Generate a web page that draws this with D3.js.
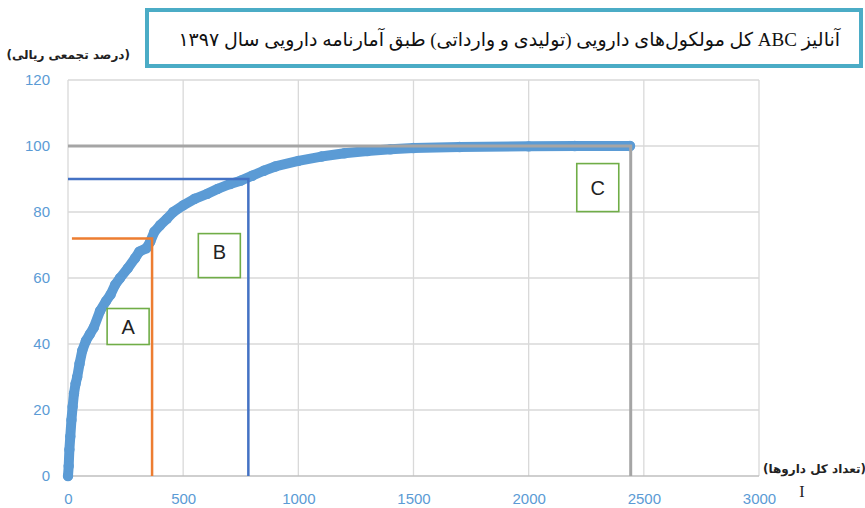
<!DOCTYPE html>
<html>
<head>
<meta charset="utf-8">
<script src="https://cdn.jsdelivr.net/npm/d3@7"></script>
<style>
	body { margin: 0; background: #fff; }
	svg text { font-family: "Liberation Sans", "DejaVu Sans", sans-serif; }
</style>
</head>
<body>
<div id="chart"></div>
<script>
// cumulative curve: [number of drugs, cumulative % of value]
const curveX = [0, 3, 6, 10, 15, 20, 26, 33, 40, 50, 62, 78, 95, 112, 139, 165, 185, 205, 226,
	260, 291, 310, 340, 357, 375, 400, 430, 457, 500, 550, 604, 650, 704, 750, 800, 850, 900,
	1000, 1100, 1200, 1300, 1400, 1500, 1700, 2000, 2200, 2440];
const curveY = [0, 3, 8, 12, 17, 21, 25, 28, 30, 34, 38, 41, 43, 45, 50, 53, 55, 58, 60,
	63, 66, 68, 69, 71, 74, 76, 78, 80, 82, 84, 85.5, 87, 88.5, 89.5, 91, 92.5, 93.8,
	95.5, 96.8, 97.8, 98.5, 99, 99.4, 99.7, 99.9, 100, 100];

// ABC cut-offs
const cutNames = ['A', 'B', 'C'];
const cutX = [365, 783, 2443];
const cutY = [72, 90, 100];
const cutStart = [17, 0, 0];
const cutColors = ['#ed7d31', '#4472c4', '#a5a5a5'];

// label boxes (data coordinates of their centres)
const boxX = [261, 657, 2300];
const boxY = [45.3, 68, 87.4];

const xTicks = [0, 500, 1000, 1500, 2000, 2500, 3000];
const yTicks = [0, 20, 40, 60, 80, 100, 120];

const title = 'آنالیز ABC  کل مولکول‌های دارویی (تولیدی و وارداتی) طبق آمارنامه دارویی سال ۱۳۹۷';
const yLabel = '(درصد تجمعی ریالی)';
const xLabel = '(تعداد کل داروها)';

const svg = d3.select('#chart')
	.append('svg')
	.attr('width', 865)
	.attr('height', 508);

const x = d3.scaleLinear().domain([0, 3000]).range([68, 759]);
const y = d3.scaleLinear().domain([0, 120]).range([476, 80]);

// grid
svg.append('g')
	.selectAll('line')
	.data(xTicks)
	.enter()
	.append('line')
	.attr('x1', (d) => x(d))
	.attr('x2', (d) => x(d))
	.attr('y1', y(120))
	.attr('y2', y(0))
	.attr('stroke', '#d9d9d9')
	.attr('stroke-width', 1.3);

svg.append('g')
	.selectAll('line')
	.data(yTicks)
	.enter()
	.append('line')
	.attr('x1', x(0))
	.attr('x2', x(3000))
	.attr('y1', (d) => y(d))
	.attr('y2', (d) => y(d))
	.attr('stroke', (d) => d === 0 ? '#bfbfbf' : '#d9d9d9')
	.attr('stroke-width', 1.3);

// tick labels
svg.append('g')
	.attr('transform', 'translate(0,' + y(0) + ')')
	.call(d3.axisBottom(x).tickValues(xTicks).tickFormat(d3.format('d')).tickSize(0).tickPadding(17))
	.call((g) => g.select('.domain').remove())
	.selectAll('text')
	.attr('fill', '#5b9bd5')
	.style('font-size', '15px');

svg.append('g')
	.attr('transform', 'translate(' + x(0) + ',0)')
	.call(d3.axisLeft(y).tickValues(yTicks).tickSize(0).tickPadding(18))
	.call((g) => g.select('.domain').remove())
	.selectAll('text')
	.attr('fill', '#5b9bd5')
	.style('font-size', '15px');

// cumulative curve: thick band of overlapping dots
const points = curveX.map((d, i) => [d, curveY[i]]);

svg.append('path')
	.datum(points)
	.attr('d', d3.line().x((d) => x(d[0])).y((d) => y(d[1])))
	.attr('fill', 'none')
	.attr('stroke', '#5b9bd5')
	.attr('stroke-width', 10)
	.attr('stroke-linejoin', 'round')
	.attr('stroke-linecap', 'round');

svg.append('g')
	.selectAll('circle')
	.data(points)
	.enter()
	.append('circle')
	.attr('cx', (d) => x(d[0]))
	.attr('cy', (d) => y(d[1]))
	.attr('r', 5.2)
	.attr('fill', '#5b9bd5');

// ABC cut-off lines
cutNames.forEach((name, i) => {
	svg.append('path')
		.attr('d', 'M' + x(cutStart[i]) + ',' + y(cutY[i]) + 'H' + x(cutX[i]) + 'V' + y(0))
		.attr('fill', 'none')
		.attr('stroke', cutColors[i])
		.attr('stroke-width', i === 2 ? 3 : 2.5);
});

// A / B / C boxes
const boxes = svg.append('g')
	.selectAll('g')
	.data(cutNames)
	.enter()
	.append('g')
	.attr('transform', (d, i) => 'translate(' + x(boxX[i]) + ',' + y(boxY[i]) + ')');

boxes.append('rect')
	.attr('x', -21)
	.attr('y', (d, i) => i === 2 ? -24 : -18)
	.attr('width', 42)
	.attr('height', (d, i) => i === 2 ? 48 : (i === 1 ? 44 : 36))
	.attr('fill', '#fff')
	.attr('stroke', '#70ad47')
	.attr('stroke-width', 1.6);

boxes.append('text')
	.attr('text-anchor', 'middle')
	.attr('dy', '0.36em')
	.attr('fill', '#222')
	.style('font-size', '20px')
	.text((d) => d);

// axis titles
svg.append('text')
	.attr('x', 130)
	.attr('y', 59)
	.attr('direction', 'rtl')
	.attr('text-anchor', 'start')
	.style('font-family', '"DejaVu Sans", sans-serif')
	.style('font-size', '12px')
	.style('font-weight', 'bold')
	.attr('fill', '#222')
	.text(yLabel);

svg.append('text')
	.attr('x', 866)
	.attr('y', 473)
	.attr('direction', 'rtl')
	.attr('text-anchor', 'start')
	.style('font-family', '"DejaVu Sans", sans-serif')
	.style('font-size', '12px')
	.style('font-weight', 'bold')
	.attr('fill', '#222')
	.text(xLabel);

// text cursor left in the screenshot
svg.append('text')
	.attr('x', 802)
	.attr('y', 497)
	.attr('text-anchor', 'middle')
	.style('font-family', '"Liberation Serif", serif')
	.style('font-size', '16px')
	.attr('fill', '#222')
	.text('I');

// title box
svg.append('rect')
	.attr('x', 147)
	.attr('y', 10)
	.attr('width', 714)
	.attr('height', 56)
	.attr('fill', '#fff')
	.attr('stroke', '#4bacc6')
	.attr('stroke-width', 4);

svg.append('text')
	.attr('x', 840)
	.attr('y', 46)
	.attr('direction', 'rtl')
	.attr('text-anchor', 'start')
	.style('font-family', '"Liberation Serif", "DejaVu Serif", "DejaVu Sans", serif')
	.style('font-size', '19px')
	.attr('fill', '#111')
	.text(title);
</script>
</body>
</html>
